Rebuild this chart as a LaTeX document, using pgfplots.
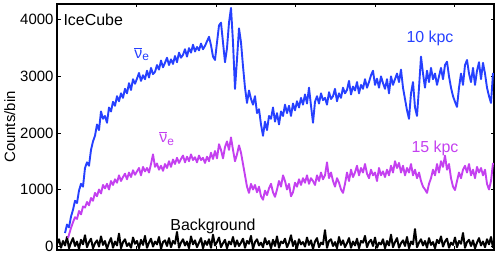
\documentclass[border=0pt]{standalone}
\usepackage{fontspec}
\setmainfont{Liberation Sans}
\usepackage{pgfplots}
\usepackage{pgfplotstable}
\pgfplotsset{compat=1.18}
\definecolor{nublue}{RGB}{38,64,255}
\definecolor{numag}{RGB}{196,64,240}

% 10 kpc, nu_e-bar (x in px from left axis)
\pgfplotstableread[row sep=\\]{
x y\\
8 230\\ 10 380\\ 12 330\\ 14 520\\ 16 640\\ 18 800\\ 20 760\\ 22 980\\ 24 1100\\ 26 1050\\
28 1380\\ 30 1480\\ 32 1420\\ 34 1700\\ 36 1850\\ 38 1950\\ 40 2150\\ 42 2050\\ 44 2380\\ 46 2250\\
48 2300\\ 50 2180\\ 52 2450\\ 54 2380\\ 56 2550\\ 58 2480\\ 60 2650\\ 62 2560\\ 64 2700\\ 66 2620\\
68 2780\\ 70 2700\\ 72 2880\\ 74 2760\\ 76 2950\\ 78 2870\\ 80 2960\\ 82 3060\\ 84 2920\\ 86 3020\\
88 2950\\ 90 3100\\ 92 2980\\ 94 3150\\ 96 3040\\ 98 3080\\ 100 3200\\ 102 3120\\ 104 3280\\ 106 3160\\
108 3240\\ 110 3330\\ 112 3200\\ 114 3300\\ 116 3220\\ 118 3360\\ 120 3250\\ 122 3420\\ 124 3330\\ 126 3380\\
128 3480\\ 130 3350\\ 132 3500\\ 134 3420\\ 136 3560\\ 138 3440\\ 140 3520\\ 142 3460\\ 144 3580\\ 146 3480\\
148 3540\\ 150 3620\\ 152 3700\\ 154 3550\\ 156 3350\\ 158 3290\\ 160 3600\\ 162 3900\\ 164 3950\\ 166 3600\\
168 3250\\ 170 3500\\ 172 3950\\ 174 4210\\ 176 3600\\ 178 2780\\ 180 3300\\ 182 3850\\ 184 3600\\ 186 3180\\
188 2800\\ 190 2530\\ 192 2750\\ 194 2600\\ 196 2500\\ 198 2650\\ 200 2350\\ 202 2420\\ 204 2150\\ 206 1950\\
208 2200\\ 210 2050\\ 212 2300\\ 214 2250\\ 216 2450\\ 218 2200\\ 220 2350\\ 222 2150\\ 224 2380\\ 226 2300\\
228 2500\\ 230 2350\\ 232 2480\\ 234 2300\\ 236 2520\\ 238 2400\\ 240 2560\\ 242 2450\\ 244 2620\\ 246 2500\\
248 2680\\ 250 2520\\ 252 2800\\ 254 2480\\ 256 2180\\ 258 2550\\ 260 2650\\ 262 2520\\ 264 2700\\ 266 2580\\
268 2620\\ 270 2500\\ 272 2720\\ 274 2600\\ 276 2650\\ 278 2780\\ 280 2560\\ 282 2700\\ 284 2620\\ 286 2800\\
288 2700\\ 290 2760\\ 292 2920\\ 294 2680\\ 296 2820\\ 298 2750\\ 300 2900\\ 302 2700\\ 304 2850\\ 306 2780\\
308 2950\\ 310 2800\\ 312 2900\\ 314 3020\\ 316 3100\\ 318 2850\\ 320 2960\\ 322 2800\\ 324 3000\\ 326 2880\\
328 2780\\ 330 2950\\ 332 2700\\ 334 3000\\ 336 2850\\ 338 2950\\ 340 3050\\ 342 2900\\ 344 3120\\ 346 2800\\
348 2600\\ 350 2400\\ 352 2250\\ 354 2700\\ 356 2900\\ 358 2450\\ 360 2300\\ 362 2800\\ 364 3350\\ 366 3050\\
368 2800\\ 370 3100\\ 372 2900\\ 374 3150\\ 376 2950\\ 378 3050\\ 380 2850\\ 382 3000\\ 384 3150\\ 386 2950\\
388 3200\\ 390 3260\\ 392 3000\\ 394 2800\\ 396 2650\\ 398 2550\\ 400 2460\\ 402 2800\\ 404 3050\\ 406 2850\\
408 3200\\ 410 3290\\ 412 3050\\ 414 2900\\ 416 3150\\ 418 2850\\ 420 3100\\ 422 3250\\ 424 2950\\ 426 3240\\
428 3050\\ 430 2800\\ 432 2650\\ 434 2530\\ 436 3060\\
}\tenkpc

% 15 kpc
\pgfplotstableread[row sep=\\]{
x y\\
11 140\\ 12 200\\ 14 320\\ 16 420\\ 18 510\\ 20 480\\ 22 620\\ 24 560\\ 26 700\\ 28 680\\
30 780\\ 32 720\\ 34 850\\ 36 800\\ 38 940\\ 40 880\\ 42 1000\\ 44 930\\ 46 1080\\ 48 1020\\
50 1100\\ 52 1000\\ 54 1150\\ 56 1080\\ 58 1180\\ 60 1120\\ 62 1250\\ 64 1150\\ 66 1220\\ 68 1280\\
70 1180\\ 72 1300\\ 74 1220\\ 76 1340\\ 78 1260\\ 80 1320\\ 82 1380\\ 84 1250\\ 86 1400\\ 88 1320\\
90 1380\\ 92 1300\\ 94 1450\\ 96 1620\\ 98 1400\\ 100 1460\\ 102 1350\\ 104 1420\\ 106 1330\\ 108 1450\\
110 1380\\ 112 1500\\ 114 1400\\ 116 1530\\ 118 1450\\ 120 1560\\ 122 1470\\ 124 1540\\ 126 1600\\ 128 1480\\
130 1580\\ 132 1500\\ 134 1620\\ 136 1520\\ 138 1570\\ 140 1480\\ 142 1600\\ 144 1520\\ 146 1560\\ 148 1470\\
150 1580\\ 152 1500\\ 154 1650\\ 156 1540\\ 158 1680\\ 160 1550\\ 162 1800\\ 164 1700\\ 166 1550\\ 168 1750\\
170 1850\\ 172 1700\\ 174 1920\\ 176 1700\\ 178 1500\\ 180 1620\\ 182 1780\\ 184 1650\\ 186 1450\\ 188 1250\\
190 1050\\ 192 940\\ 194 1100\\ 196 1000\\ 198 1080\\ 200 950\\ 202 1050\\ 204 880\\ 206 820\\ 208 980\\
210 900\\ 212 1020\\ 214 1100\\ 216 950\\ 218 870\\ 220 1000\\ 222 1150\\ 224 1050\\ 226 1250\\ 228 1150\\
230 1000\\ 232 1100\\ 234 880\\ 236 950\\ 238 1120\\ 240 1050\\ 242 1180\\ 244 1080\\ 246 1200\\ 248 1120\\
250 1250\\ 252 1100\\ 254 1200\\ 256 1150\\ 258 1080\\ 260 1250\\ 262 1150\\ 264 1300\\ 266 1180\\ 268 1250\\
270 1480\\ 272 1200\\ 274 1300\\ 276 1150\\ 278 1050\\ 280 1200\\ 282 1120\\ 284 1000\\ 286 940\\ 288 1100\\
290 1300\\ 292 1150\\ 294 1350\\ 296 1220\\ 298 1300\\ 300 1420\\ 302 1250\\ 304 1380\\ 306 1300\\ 308 1450\\
310 1280\\ 312 1200\\ 314 1350\\ 316 1250\\ 318 1300\\ 320 1150\\ 322 1380\\ 324 1250\\ 326 1320\\ 328 1220\\
330 1350\\ 332 1250\\ 334 1420\\ 336 1300\\ 338 1500\\ 340 1380\\ 342 1470\\ 344 1300\\ 346 1420\\ 348 1250\\
350 1380\\ 352 1300\\ 354 1450\\ 356 1250\\ 358 1350\\ 360 1200\\ 362 1300\\ 364 1150\\ 366 1050\\ 368 1000\\
370 940\\ 372 1100\\ 374 1200\\ 376 1350\\ 378 1250\\ 380 1450\\ 382 1300\\ 384 1500\\ 386 1400\\ 388 1600\\
390 1350\\ 392 1450\\ 394 1200\\ 396 1050\\ 398 990\\ 400 1150\\ 402 1300\\ 404 1200\\ 406 1350\\ 408 1420\\
410 1300\\ 412 1450\\ 414 1250\\ 416 1350\\ 418 1200\\ 420 1400\\ 422 1300\\ 424 1380\\ 426 1250\\ 428 1350\\
430 1100\\ 432 1000\\ 434 1150\\ 436 1470\\
}\fifteenkpc

% background
\pgfplotstableread[row sep=\\]{
x y\\
0 40\\ 2 120\\ 4 -30\\ 6 90\\ 8 10\\ 10 160\\ 12 -40\\ 14 60\\ 16 140\\ 18 0\\
20 80\\ 22 -50\\ 24 110\\ 26 30\\ 28 190\\ 30 -20\\ 32 70\\ 34 130\\ 36 -40\\ 38 50\\
40 100\\ 42 -10\\ 44 170\\ 46 20\\ 48 90\\ 50 -50\\ 52 60\\ 54 140\\ 56 -30\\ 58 80\\
60 10\\ 62 220\\ 64 -40\\ 66 70\\ 68 120\\ 70 0\\ 72 50\\ 74 -30\\ 76 150\\ 78 40\\
80 90\\ 82 -40\\ 84 110\\ 86 20\\ 88 180\\ 90 -30\\ 92 60\\ 94 130\\ 96 -10\\ 98 80\\
100 30\\ 102 160\\ 104 -50\\ 106 70\\ 108 100\\ 110 0\\ 112 140\\ 114 -20\\ 116 90\\ 118 40\\
120 250\\ 122 -30\\ 124 60\\ 126 120\\ 128 10\\ 130 80\\ 132 -40\\ 134 170\\ 136 30\\ 138 100\\
140 -20\\ 142 60\\ 144 140\\ 146 -40\\ 148 90\\ 150 20\\ 152 120\\ 154 -30\\ 156 200\\ 158 10\\
160 70\\ 162 150\\ 164 -20\\ 166 50\\ 168 110\\ 170 -40\\ 172 80\\ 174 30\\ 176 160\\ 178 -10\\
180 100\\ 182 0\\ 184 60\\ 186 130\\ 188 -30\\ 190 90\\ 192 40\\ 194 180\\ 196 -50\\ 198 70\\
200 120\\ 202 10\\ 204 60\\ 206 -20\\ 208 140\\ 210 30\\ 212 90\\ 214 -40\\ 216 110\\ 218 0\\
220 170\\ 222 -30\\ 224 80\\ 226 50\\ 228 130\\ 230 -20\\ 232 60\\ 234 190\\ 236 0\\ 238 90\\
240 -40\\ 242 120\\ 244 30\\ 246 70\\ 248 -10\\ 250 150\\ 252 20\\ 254 100\\ 256 -50\\ 258 80\\
260 140\\ 262 -20\\ 264 60\\ 266 30\\ 268 280\\ 270 -30\\ 272 90\\ 274 120\\ 276 0\\ 278 70\\
280 -40\\ 282 160\\ 284 20\\ 286 100\\ 288 -20\\ 290 50\\ 292 140\\ 294 -30\\ 296 80\\ 298 10\\
300 130\\ 302 -40\\ 304 90\\ 306 60\\ 308 180\\ 310 -20\\ 312 70\\ 314 110\\ 316 0\\ 318 150\\
320 -30\\ 322 60\\ 324 30\\ 326 120\\ 328 -40\\ 330 90\\ 332 10\\ 334 200\\ 336 -20\\ 338 70\\
340 140\\ 342 -30\\ 344 50\\ 346 100\\ 348 0\\ 350 160\\ 352 -40\\ 354 80\\ 356 30\\ 358 300\\
360 -20\\ 362 60\\ 364 120\\ 366 10\\ 368 90\\ 370 -30\\ 372 140\\ 374 20\\ 376 70\\ 378 -40\\
380 110\\ 382 50\\ 384 170\\ 386 -10\\ 388 80\\ 390 130\\ 392 -30\\ 394 60\\ 396 20\\ 398 150\\
400 -20\\ 402 90\\ 404 40\\ 406 230\\ 408 -30\\ 410 70\\ 412 110\\ 414 0\\ 416 100\\ 418 -40\\
420 60\\ 422 140\\ 424 10\\ 426 80\\ 428 -20\\ 430 120\\ 432 30\\ 434 160\\ 436 -30\\
}\bkg

\begin{document}
\begin{tikzpicture}
\begin{axis}[
  scale only axis,
  width=437bp, height=246bp,
  xmin=0, xmax=437, ymin=-70, ymax=4280,
  xtick={0,79.5,159,238.5,318,397.5},
  xticklabels={},
  ytick={0,1000,2000,3000,4000},
  tick align=inside,
  major tick length=3.5bp,
  tick style={black, line width=0.8pt},
  axis line style={black, line width=1.1pt},
  ylabel={Counts/bin},
  ylabel style={font=\fontsize{15}{17}\selectfont, yshift=-2bp},
  tick label style={font=\fontsize{15}{17}\selectfont},
  /pgf/number format/assume math mode=true,
  scaled y ticks=false,
  yticklabel style={/pgf/number format/1000 sep={}},
  clip=true,
]
\addplot[black, line width=2pt, line join=round] table {\bkg};
\addplot[numag, line width=1.9pt, line join=round] table {\fifteenkpc};
\addplot[nublue, line width=1.9pt, line join=round] table {\tenkpc};

\node[anchor=west, font=\fontsize{16}{18}\selectfont] at (axis cs:3,4000) {IceCube};
\node[nublue, font=\fontsize{16}{18}\selectfont] at (axis cs:85,3390) {$\overline{\mbox{ν}}_{\mbox{\fontsize{12}{14}\selectfont e}}$};
\node[numag, font=\fontsize{16}{18}\selectfont] at (axis cs:110,1900) {$\overline{\mbox{ν}}_{\mbox{\fontsize{12}{14}\selectfont e}}$};
\node[nublue, font=\fontsize{16}{18}\selectfont] at (axis cs:373,3680) {10 kpc};
\node[numag, font=\fontsize{16}{18}\selectfont] at (axis cs:378,1735) {15 kpc};
\node[black, font=\fontsize{16}{18}\selectfont] at (axis cs:156,354) {Background};
\end{axis}
\pgfresetboundingbox
\path (-57bp,-5bp) rectangle (441bp,250bp);
\end{tikzpicture}
\end{document}
